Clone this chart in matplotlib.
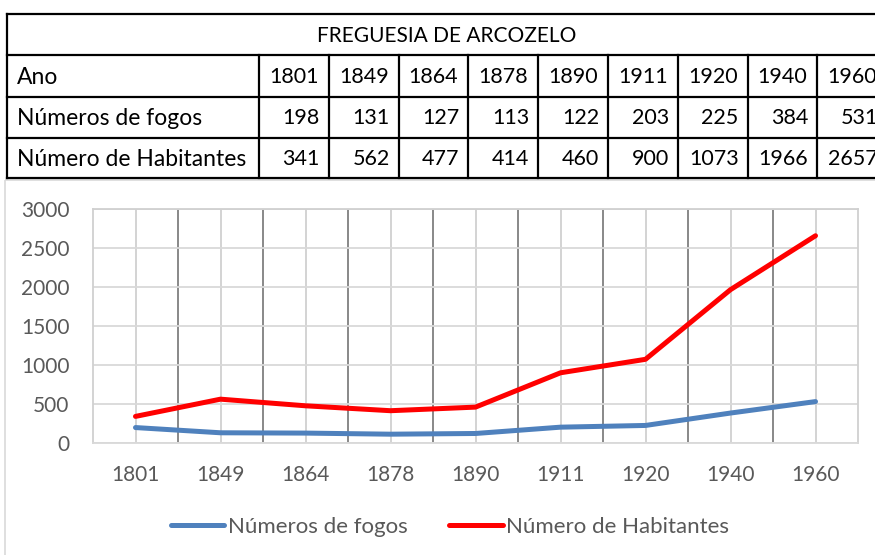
import matplotlib
matplotlib.use('Agg')
import matplotlib.pyplot as plt
from matplotlib.lines import Line2D
from matplotlib.patches import Rectangle

plt.rcParams['font.family'] = ['Lato', 'DejaVu Sans']

title = 'FREGUESIA DE ARCOZELO'
anos = ['1801', '1849', '1864', '1878', '1890', '1911', '1920', '1940', '1960']
fogos = [198, 131, 127, 113, 122, 203, 225, 384, 531]
habitantes = [341, 562, 477, 414, 460, 900, 1073, 1966, 2657]
row_labels = ['Ano', 'Números de fogos', 'Número de Habitantes']

W, H = 875, 555
fig = plt.figure(figsize=(W / 100, H / 100), dpi=100)

# overlay in pixel coordinates for the table and chart frame
ov = fig.add_axes([0, 0, 1, 1])
ov.set_xlim(0, W)
ov.set_ylim(H, 0)
ov.axis('off')

# chart frame
ov.add_patch(Rectangle((5, 180), 900, 400, fill=False, ec='#d9d9d9', lw=1.2))

# table
x0, xlab, cw = 7, 259, 69.8
rows_y = [14, 55, 97, 138, 178]
x_end = 900
lw_t = 1.6
for y in rows_y:
    ov.add_line(Line2D([x0, x_end], [y, y], color='black', lw=lw_t))
ov.add_line(Line2D([x0, x0], [rows_y[0], rows_y[-1]], color='black', lw=lw_t))
for i in range(len(anos) + 1):
    xv = xlab + i * cw
    ov.add_line(Line2D([xv, xv], [rows_y[1], rows_y[-1]], color='black', lw=lw_t))

fs_t = 16.5
fs_n = 15.5
ov.text(447, (rows_y[0] + rows_y[1]) / 2 + 1, title, ha='center', va='center', fontsize=fs_t - 1.5)
rows_vals = [anos, fogos, habitantes]
for r, (lab, vals) in enumerate(zip(row_labels, rows_vals)):
    yc = (rows_y[r + 1] + rows_y[r + 2]) / 2 + 1
    ov.text(x0 + 10, yc, lab, ha='left', va='center', fontsize=fs_t)
    for i, v in enumerate(vals):
        if r == 0:
            ov.text(xlab + i * cw + cw / 2, yc, str(v), ha='center', va='center', fontsize=fs_n)
        else:
            ov.text(xlab + (i + 1) * cw - 9, yc, str(v), ha='right', va='center', fontsize=fs_n)

# chart
left, right, top, bottom = 93, 858, 209, 443
ax = fig.add_axes([left / W, 1 - bottom / H, (right - left) / W, (bottom - top) / H])
x = list(range(len(anos)))
ax.plot(x, fogos, color='#4f81bd', lw=3.6, solid_capstyle='round', label='Números de fogos', zorder=3)
ax.plot(x, habitantes, color='#ff0000', lw=3.6, solid_capstyle='round', label='Número de Habitantes', zorder=3)
ax.set_xlim(-0.5, len(anos) - 0.5)
ax.set_ylim(0, 3000)
ax.set_yticks(range(0, 3001, 500))
ax.set_xticks(x)
ax.set_xticklabels(anos)
ax.grid(axis='y', color='#d9d9d9', lw=1.3)
for i in x:
    ax.axvline(i, color='#d0d0d0', lw=1.3, zorder=1)
for i in range(1, len(anos)):
    ax.axvline(i - 0.5, color='#7f7f7f', lw=1.3, zorder=1)
for s in ['top', 'right', 'left']:
    ax.spines[s].set_color('#d0d0d0')
    ax.spines[s].set_linewidth(1.3)
ax.spines['bottom'].set_color('#d9d9d9')
ax.spines['bottom'].set_linewidth(1.3)
ax.tick_params(length=0, labelsize=15, labelcolor='#595959')
ax.tick_params(axis='x', pad=16)
ax.tick_params(axis='y', pad=17)

fig.legend(loc='center', bbox_to_anchor=(450 / W, 1 - 527 / H), ncol=2, frameon=False,
           fontsize=16, labelcolor='#595959', handlelength=2.4, handletextpad=0.15,
           columnspacing=1.9)

fig.savefig('out.png', dpi=100)
